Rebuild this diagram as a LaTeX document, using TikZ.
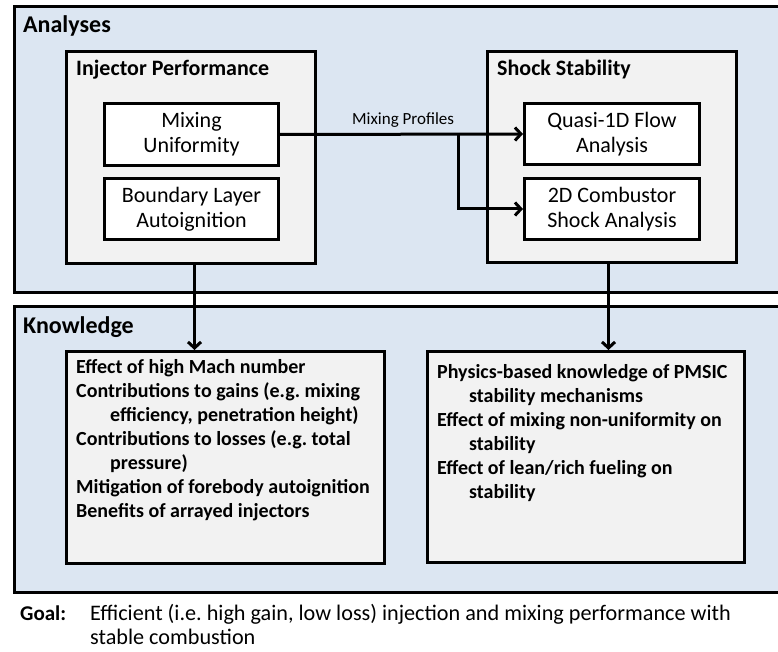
\documentclass[tikz,border=0pt]{standalone}
\usepackage{fontspec}
\setmainfont{Carlito}
\usetikzlibrary{arrows.meta}
\frenchspacing
\definecolor{secblue}{HTML}{DCE6F2}
\definecolor{panelgray}{HTML}{F2F2F2}
\tikzset{
  section/.style={draw=black, line width=3pt, fill=secblue, anchor=north west, inner sep=0pt},
  panel/.style={draw=black, line width=3pt, fill=panelgray, anchor=north west, inner sep=0pt},
  task/.style={draw=black, line width=3pt, fill=white, anchor=north west, inner sep=0pt,
    align=center, font=\fontsize{22}{25}\selectfont},
  sectitle/.style={anchor=base west, inner sep=0pt, font=\fontsize{24}{28}\bfseries\selectfont},
  paneltitle/.style={anchor=base west, inner sep=0pt, font=\fontsize{22}{26}\bfseries\selectfont},
  itemlist/.style={anchor=north west, inner sep=0pt, align=left, font=\fontsize{20}{24}\bfseries\selectfont},
  conn/.style={line width=3pt, -{Straight Barb[length=6pt,width=13pt]}},
  flowlabel/.style={anchor=base west, inner sep=0pt, font=\fontsize{17}{20}\selectfont},
  goalline/.style={anchor=base west, inner sep=0pt, font=\fontsize{22.2}{24}\selectfont},
}
\begin{document}
\frenchspacing
\begin{tikzpicture}[x=1pt,y=-1pt]
\useasboundingbox (0,0) rectangle (778,652);
\clip (0,0) rectangle (778,652);

% sections
\node[section, minimum width=780pt, minimum height=286pt] (ana) at (13,5) {};
\node[section, minimum width=780pt, minimum height=286pt] (kno) at (13,305) {};
\node[sectitle] (anatitle) at (23,33) {Analyses};
\node[sectitle] (knotitle) at (23,333) {Knowledge};

% analysis panels
\node[panel, minimum width=249pt, minimum height=212pt] (inj) at (65,50) {};
\node[panel, minimum width=249pt, minimum height=211pt] (shk) at (486,50) {};
\node[paneltitle] (injtitle) at (76,76) {Injector Performance};
\node[paneltitle] (shktitle) at (497,76) {Shock Stability};

\node[task, minimum width=174pt, minimum height=62pt] (mix) at (103,102) {Mixing\\Uniformity};
\node[task, minimum width=174pt, minimum height=61pt] (bl) at (103,177) {Boundary Layer\\Autoignition};
\node[task, minimum width=175pt, minimum height=61pt] (q1d) at (523,102) {Quasi-1D Flow\\Analysis};
\node[task, minimum width=175pt, minimum height=61pt] (cmb) at (523,177) {2D Combustor\\Shock Analysis};

% knowledge panels
\node[panel, minimum width=318pt, minimum height=212pt] (kl) at (65,350) {};
\node[panel, minimum width=317pt, minimum height=211pt] (kr) at (426,350) {};

\node[itemlist] (kltext) at (76,359.5) {Effect of high Mach number\\
Contributions to gains (e.g. mixing\\
\hspace*{34pt}efficiency, penetration height)\\
Contributions to losses (e.g. total\\
\hspace*{34pt}pressure)\\
Mitigation of forebody autoignition\\
Benefits of arrayed injectors};

\node[itemlist] (krtext) at (437,364.5) {Physics-based knowledge of PMSIC\\
\hspace*{32pt}stability mechanisms\\
Effect of mixing non-uniformity on\\
\hspace*{32pt}stability\\
Effect of lean/rich fueling on\\
\hspace*{32pt}stability};

% connectors
\coordinate (split) at (458,133);
\draw[conn] (mix.east) -- (q1d.west);
\draw[conn] (split) |- (cmb.west);
\node[flowlabel] (mixlabel) at (352,125) {Mixing Profiles};
\draw[conn] ([xshift=3.5pt]inj.south) -- ([xshift=3.5pt]inj.south |- kl.north);
\draw[conn] ([xshift=-3.5pt]shk.south) -- ([xshift=-3.5pt]shk.south |- kr.north);

% goal
\node[anchor=base west, inner sep=0pt, font=\fontsize{21}{24}\bfseries\selectfont] (goalkey) at (20,620) {Goal:};
\node[goalline] (goaltext) at (90,620) {Efficient (i.e. high gain, low loss) injection and mixing performance with};
\node[goalline] (goaltext2) at (90,644) {stable combustion};
\end{tikzpicture}
\end{document}
